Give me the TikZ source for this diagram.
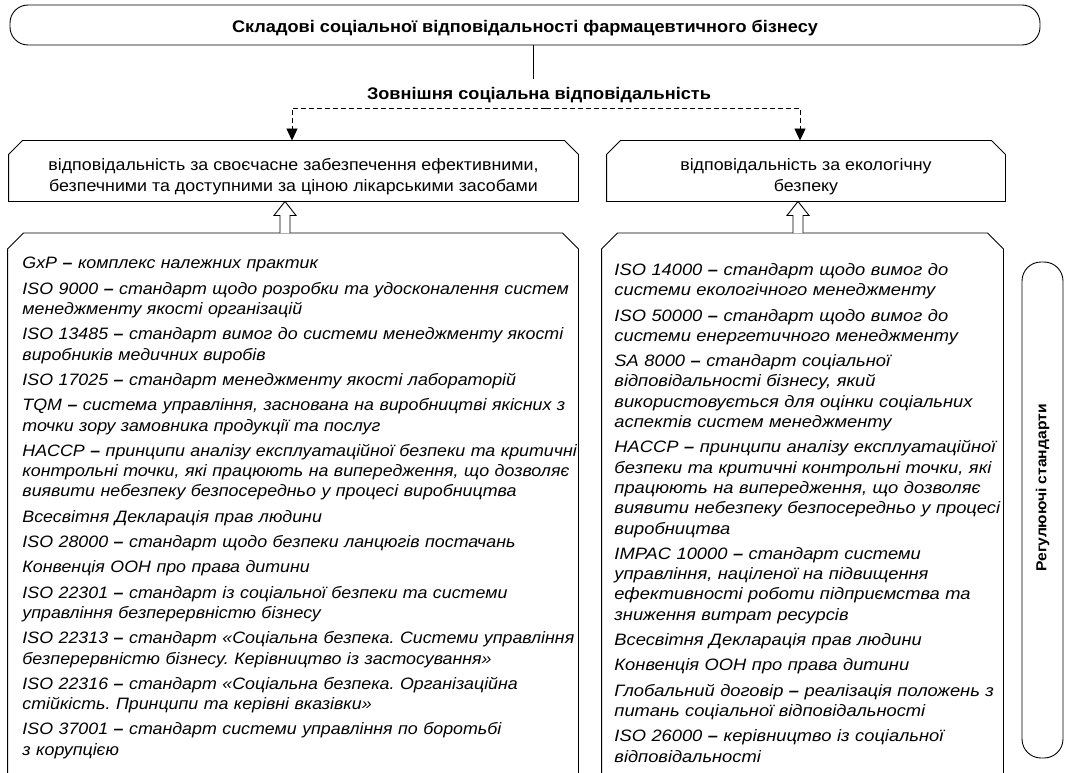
\documentclass[tikz,border=0pt]{standalone}
\usepackage{fontspec}
\setmainfont{Liberation Sans}[FakeStretch=1.08]
\usetikzlibrary{calc,arrows.meta}
\frenchspacing

% box with the two top corners cut off
\newcommand{\cutbox}[2]{%
  \draw ([xshift=#2]#1.north west) -- ([xshift=-#2]#1.north east)
    -- ([yshift=-#2]#1.north east) -- (#1.south east) -- (#1.south west)
    -- ([yshift=-#2]#1.north west) -- cycle;}
% hollow block arrow pointing up
\newcommand{\hollowup}[2]{%
  \draw[fill=white,line join=miter] ($(#1)+(-5,0)$) -- ($(#2)+(-5,14)$) -- ($(#2)+(-11,14)$)
    -- (#2) -- ($(#2)+(11,14)$) -- ($(#2)+(5,14)$) -- ($(#1)+(5,0)$);}

\begin{document}
\begin{tikzpicture}[x=1pt, y=-1pt, line width=0.9pt,
  every node/.style={inner sep=0pt},
  headtext/.style={font=\fontsize{16.8}{19}\selectfont\bfseries},
  boxtext/.style={font=\fontsize{16.5}{21}\selectfont, align=center},
  listtext/.style={font=\fontsize{16.5}{20.3}\selectfont\itshape, align=left, anchor=north west}]

\useasboundingbox (0,0) rectangle (1068,773);

% ---------- TOP ----------
\node[draw, rounded corners=18pt, minimum width=1030pt, minimum height=40pt, headtext,
  text height=16pt, text depth=0pt]
  (title) at (525,25) {Складові соціальної відповідальності фармацевтичного бізнесу};
\node[headtext] (ext) at (539,95) {Зовнішня соціальна відповідальність};
\coordinate (stem) at (533,79);
\draw (stem |- title.south) -- (stem);

% ---------- RESPONSIBILITIES ----------
\node[boxtext, minimum width=569pt, minimum height=60pt] (respL) at (293.5,171)
  {\rule{0pt}{23pt}відповідальність за своєчасне забезпечення ефективними,\\
   безпечними та доступними за ціною лікарськими засобами};
\node[boxtext, minimum width=398pt, minimum height=60pt] (respR) at (806,171)
  {\rule{0pt}{23pt}відповідальність за екологічну\\безпеку};
\cutbox{respL}{14pt}
\cutbox{respR}{14pt}

% dashed split
\coordinate (split) at (546,108);
\draw[dash pattern=on 5pt off 3pt, -{Triangle[width=11pt,length=12pt]}]
  (split) -| ([xshift=-1.5pt]respL.north);
\draw[dash pattern=on 5pt off 3pt, -{Triangle[width=11pt,length=12pt]}]
  (split) -| ([xshift=-6pt]respR.north);

% ---------- STANDARDS ----------
\node[minimum width=570pt, minimum height=567pt, anchor=north] (stdL) at (293,233) {};
\node[minimum width=401pt, minimum height=567pt, anchor=north] (stdR) at (802.5,233) {};
\cutbox{stdL}{16pt}
\cutbox{stdR}{16pt}

\coordinate (upL) at (285,233);
\coordinate (upR) at (798,233);
\hollowup{upL}{upL |- respL.south}
\hollowup{upR}{upR |- respR.south}

\node[listtext, text width=600pt] (listL) at (22,257) {%
GxP \textbf{–} комплекс належних практик\\[5pt]
ISO 9000 \textbf{–} стандарт щодо розробки та удосконалення систем\\
менеджменту якості організацій\\[5pt]
ISO 13485 \textbf{–} стандарт вимог до системи менеджменту якості\\
виробників медичних виробів\\[5pt]
ISO 17025 \textbf{–} стандарт менеджменту якості лабораторій\\[5pt]
TQM \textbf{–} система управління, заснована на виробництві якісних з\\
точки зору замовника продукції та послуг\\[5pt]
HACCP \textbf{–} принципи аналізу експлуатаційної безпеки та критичні\\
контрольні точки, які працюють на випередження, що дозволяє\\
виявити небезпеку безпосередньо у процесі виробництва\\[5pt]
Всесвітня Декларація прав людини\\[5pt]
ISO 28000 \textbf{–} стандарт щодо безпеки ланцюгів постачань\\[5pt]
Конвенція ООН про права дитини\\[5pt]
ISO 22301 \textbf{–} стандарт із соціальної безпеки та системи\\
управління безперервністю бізнесу\\[5pt]
ISO 22313 \textbf{–} стандарт «Соціальна безпека. Системи управління\\
безперервністю бізнесу. Керівництво із застосування»\\[5pt]
ISO 22316 \textbf{–} стандарт «Соціальна безпека. Організаційна\\
стійкість. Принципи та керівні вказівки»\\[5pt]
ISO 37001 \textbf{–} стандарт системи управління по боротьбі\\
з корупцією};

\node[listtext, text width=440pt, font=\fontsize{16.5}{20.3}\selectfont\itshape\addfontfeature{FakeStretch=1.11}]
  (listR) at (614,263) {%
ISO 14000 \textbf{–} стандарт щодо вимог до\\
системи екологічного менеджменту\\[5pt]
ISO 50000 \textbf{–} стандарт щодо вимог до\\
системи енергетичного менеджменту\\[5pt]
SA 8000 \textbf{–} стандарт соціальної\\
відповідальності бізнесу, який\\
використовується для оцінки соціальних\\
аспектів систем менеджменту\\[5pt]
HACCP \textbf{–} принципи аналізу експлуатаційної\\
безпеки та критичні контрольні точки, які\\
працюють на випередження, що дозволяє\\
виявити небезпеку безпосередньо у процесі\\
виробництва\\[5pt]
IMPAC 10000 \textbf{–} стандарт системи\\
управління, націленої на підвищення\\
ефективності роботи підприємства та\\
зниження витрат ресурсів\\[5pt]
Всесвітня Декларація прав людини\\[5pt]
Конвенція ООН про права дитини\\[5pt]
Глобальний договір \textbf{–} реалізація положень з\\
питань соціальної відповідальності\\[5pt]
ISO 26000 \textbf{–} керівництво із соціальної\\
відповідальності};

% ---------- SIDE LABEL ----------
\node[draw, rounded corners=19pt, minimum width=41pt, minimum height=496pt] (reg) at (1042.5,510) {};
\node[headtext, font=\fontsize{14.5}{17}\selectfont\bfseries, rotate=90] (regtext)
  at ([yshift=22pt]reg.center) {Регулюючі стандарти};

\end{tikzpicture}
\end{document}
